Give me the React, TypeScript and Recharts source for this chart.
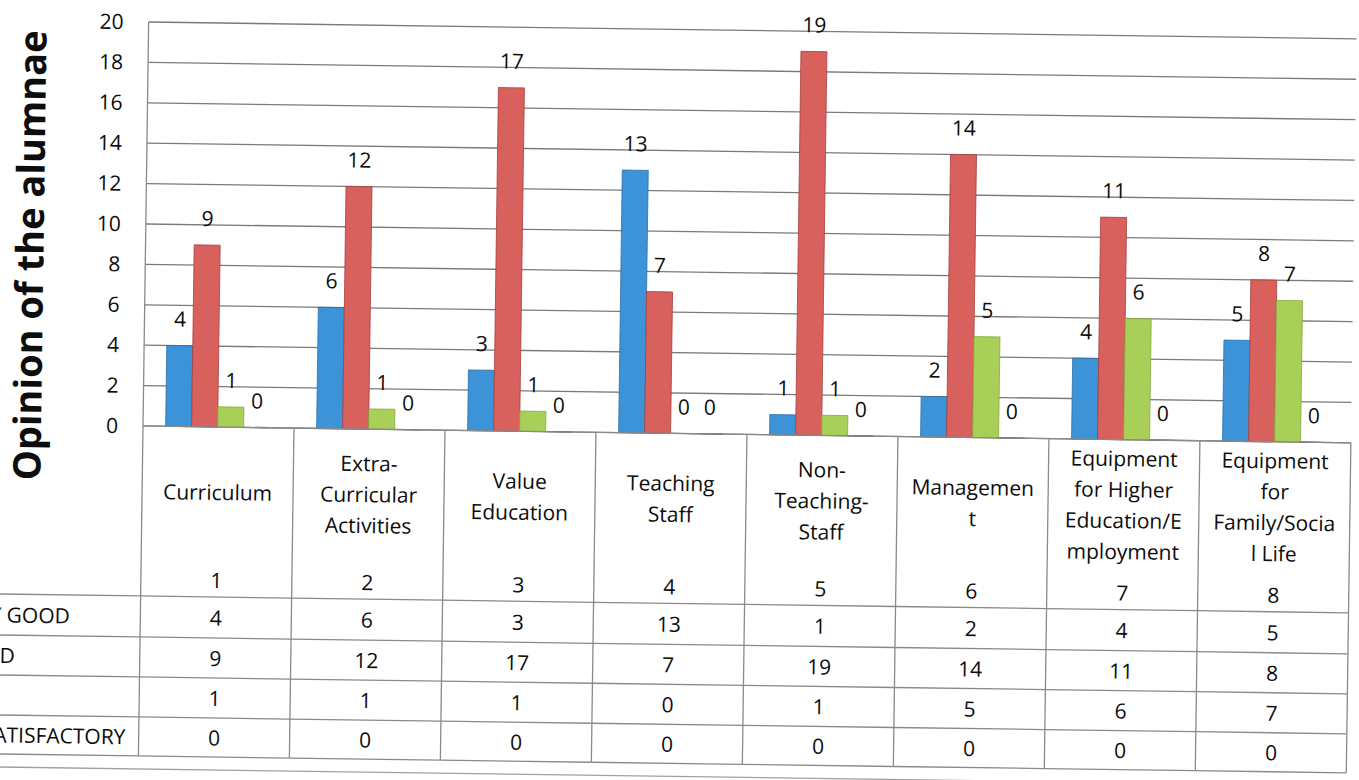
import { BarChart, Bar, XAxis, YAxis, CartesianGrid, LabelList } from 'recharts';

// category labels keep the line breaks of the original table header
const categories = [
  'Curriculum',
  'Extra-\nCurricular\nActivities',
  'Value\nEducation',
  'Teaching\nStaff',
  'Non-\nTeaching-\nStaff',
  'Managemen\nt',
  'Equipment\nfor Higher\nEducation/E\nmployment',
  'Equipment\nfor\nFamily/Socia\nl Life',
];
const categoryNumbers = ['1', '2', '3', '4', '5', '6', '7', '8'];

const seriesNames = ['VERY GOOD', 'GOOD', 'FAIR', 'UNSATISFACTORY'];
const veryGood = [4, 6, 3, 13, 1, 2, 4, 5];
const good = [9, 12, 17, 7, 19, 14, 11, 8];
const fair = [1, 1, 1, 0, 1, 5, 6, 7];
const unsatisfactory = [0, 0, 0, 0, 0, 0, 0, 0];
const yTicks = [0, 2, 4, 6, 8, 10, 12, 14, 16, 18, 20];

const seriesValues = [veryGood, good, fair, unsatisfactory];
const seriesKeys = ['veryGood', 'good', 'fair', 'unsatisfactory'];
const COLORS = ['#3d93d8', '#d8605d', '#a8cf58', '#8064a2'];
const STROKES = ['#2a6fa8', '#a8403d', '#86a83c', '#5f4a7a'];

const data = categories.map((name, i) => ({
  name,
  veryGood: veryGood[i],
  good: good[i],
  fair: fair[i],
  unsatisfactory: unsatisfactory[i],
}));

const W = 1359;
const H = 780;
const PLOT_LEFT = 143;
const PLOT_RIGHT = 1351;
const PLOT_TOP = 22;
const PLOT_BOTTOM = 426;
const BAND = (PLOT_RIGHT - PLOT_LEFT) / categories.length;
const ROW_LINES = [596, 637, 677, 717, 756];
const FRAME_BOTTOM = 769;
const HEADER_MID = 491;
const LINE_H = 31;
const NUMBER_Y = 579;
const FONT = '"Open Sans", sans-serif';
const TEXT = '#0d0d0d';
const TABLE_LINE = '#8a8a8a';

function TableColumn(props: any) {
  const { x, payload } = props;
  const i = categories.indexOf(payload.value);
  const half = BAND / 2;
  const lines = categories[i].split('\n');
  const firstY = HEADER_MID - ((lines.length - 1) * LINE_H) / 2;
  return (
    <g>
      {i === 0 && (
        <g>
          <line x1={-20} y1={FRAME_BOTTOM} x2={W + 20} y2={FRAME_BOTTOM} stroke="#a0a0a0" strokeWidth={1.3} />
          <line x1={x - half} y1={PLOT_BOTTOM} x2={x - half} y2={ROW_LINES[4]} stroke={TABLE_LINE} strokeWidth={1.3} />
          {ROW_LINES.map((ry) => (
            <line key={ry} x1={-60} y1={ry} x2={x - half} y2={ry} stroke={TABLE_LINE} strokeWidth={1.3} />
          ))}
          {seriesNames.map((s, r) => (
            <text
              key={s}
              x={-45}
              y={(ROW_LINES[r] + ROW_LINES[r + 1]) / 2}
              dominantBaseline="central"
              fontSize={21}
              fill={TEXT}
              fontFamily={FONT}
            >
              {s}
            </text>
          ))}
        </g>
      )}
      <line x1={x + half} y1={PLOT_BOTTOM} x2={x + half} y2={ROW_LINES[4]} stroke={TABLE_LINE} strokeWidth={1.3} />
      {ROW_LINES.map((ry) => (
        <line key={ry} x1={x - half} y1={ry} x2={x + half} y2={ry} stroke={TABLE_LINE} strokeWidth={1.3} />
      ))}
      {lines.map((ln, k) => (
        <text
          key={k}
          x={x}
          y={firstY + k * LINE_H}
          textAnchor="middle"
          dominantBaseline="central"
          fontSize={21}
          fill={TEXT}
          fontFamily={FONT}
        >
          {ln}
        </text>
      ))}
      <text x={x} y={NUMBER_Y} textAnchor="middle" dominantBaseline="central" fontSize={21} fill={TEXT} fontFamily={FONT}>
        {categoryNumbers[i]}
      </text>
      {seriesValues.map((vals, r) => (
        <text
          key={r}
          x={x}
          y={(ROW_LINES[r] + ROW_LINES[r + 1]) / 2}
          textAnchor="middle"
          dominantBaseline="central"
          fontSize={21}
          fill={TEXT}
          fontFamily={FONT}
        >
          {vals[i]}
        </text>
      ))}
    </g>
  );
}

// draws the value above each bar, zero values included
function BarValue(props: any) {
  const { x, y, width, value } = props;
  return (
    <text x={x + width / 2} y={y - 19} textAnchor="middle" fontSize={21} fill={TEXT} fontFamily={FONT}>
      {value}
    </text>
  );
}

export default function App() {
  return (
    <div
      style={{
        position: 'absolute',
        left: 0,
        top: 0,
        width: W,
        height: H,
        overflow: 'hidden',
        background: '#fff',
      }}
    >
      <div style={{ transform: 'rotate(0.8deg)', transformOrigin: '145px 426px' }}>
        <BarChart
          width={W}
          height={H}
          data={data}
          margin={{ top: PLOT_TOP, right: W - PLOT_RIGHT, left: 0, bottom: 0 }}
          barCategoryGap="15%"
          barGap={0}
          style={{ fontFamily: FONT }}
        >
          <CartesianGrid vertical={false} stroke="#7a7a7a" strokeWidth={1.3} />
          <XAxis
            dataKey="name"
            interval={0}
            height={H - PLOT_BOTTOM}
            tickLine={false}
            tickSize={0}
            axisLine={{ stroke: TABLE_LINE, strokeWidth: 1.3 }}
            tick={<TableColumn />}
          />
          <YAxis
            width={PLOT_LEFT}
            domain={[0, 20]}
            ticks={yTicks}
            interval={0}
            tickLine={false}
            tickSize={0}
            tickMargin={25}
            axisLine={{ stroke: TABLE_LINE, strokeWidth: 1.3 }}
            tick={{ fontSize: 21, fill: TEXT, fontFamily: FONT }}
            label={{
              value: 'Opinion of the alumnae',
              angle: -90,
              position: 'insideLeft',
              content: () => (
                <text
                  x={41}
                  y={257}
                  transform="rotate(-90, 41, 257)"
                  textAnchor="middle"
                  fontSize={38}
                  fontWeight="bold"
                  fill={TEXT}
                  fontFamily={FONT}
                >
                  Opinion of the alumnae
                </text>
              ),
            }}
          />
          {seriesKeys.map((k, s) => (
            <Bar
              key={k}
              dataKey={k}
              name={seriesNames[s]}
              fill={COLORS[s]}
              stroke={STROKES[s]}
              strokeWidth={0.8}
              minPointSize={0.01}
              isAnimationActive={false}
            >
              <LabelList dataKey={k} content={<BarValue />} />
            </Bar>
          ))}
        </BarChart>
      </div>
    </div>
  );
}
